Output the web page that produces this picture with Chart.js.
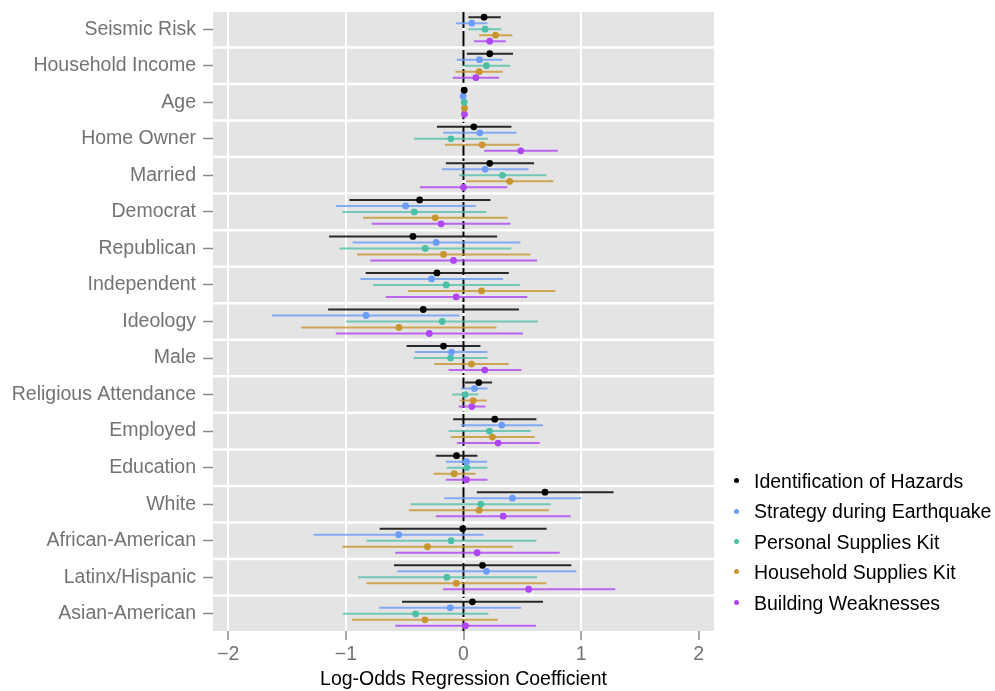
<!DOCTYPE html>
<html><head><meta charset="utf-8">
<script src="https://cdn.jsdelivr.net/npm/chart.js@4"></script>
<style>
body{margin:0;background:#fff;}
#wrap{position:relative;width:995px;height:691px;}
#legend{position:absolute;left:728px;top:466px;font-family:'Liberation Sans',Arial,sans-serif;font-size:19.5px;color:#000;}
.item{height:30.4px;line-height:30.4px;white-space:nowrap;position:relative;padding-left:26px;}
.dot{position:absolute;left:5.5px;top:12.2px;width:5px;height:5px;border-radius:50%;}
</style></head>
<body>
<div id="wrap"><canvas id="c"></canvas><div id="legend"></div></div>
<script>
const categories = ['Seismic Risk','Household Income','Age','Home Owner','Married','Democrat','Republican','Independent','Ideology','Male','Religious Attendance','Employed','Education','White','African-American','Latinx/Hispanic','Asian-American'];
const seriesNames = ['Identification of Hazards','Strategy during Earthquake','Personal Supplies Kit','Household Supplies Kit','Building Weaknesses'];
const xTicks = [-2,-1,0,1,2];

const hazardsEst = [0.175,0.223,0.006,0.088,0.223,-0.373,-0.430,-0.226,-0.342,-0.170,0.130,0.266,-0.059,0.693,-0.006,0.161,0.076];
const hazardsLo  = [0.042,0.028,0.001,-0.226,-0.150,-0.970,-1.143,-0.832,-1.151,-0.484,0.011,-0.088,-0.235,0.113,-0.713,-0.591,-0.523];
const hazardsHi  = [0.317,0.421,0.011,0.407,0.600,0.229,0.286,0.385,0.472,0.144,0.243,0.620,0.119,1.276,0.707,0.917,0.676];

const strategyEst = [0.071,0.136,-0.003,0.139,0.184,-0.492,-0.232,-0.272,-0.829,-0.102,0.093,0.325,0.025,0.416,-0.552,0.195,-0.113];
const strategyLo  = [-0.065,-0.057,-0.008,-0.173,-0.184,-1.083,-0.942,-0.877,-1.627,-0.413,-0.020,-0.023,-0.150,-0.164,-1.276,-0.563,-0.716];
const strategyHi  = [0.204,0.331,0.002,0.450,0.554,0.105,0.484,0.337,-0.034,0.204,0.204,0.676,0.201,1.001,0.170,0.959,0.489];

const personalEst = [0.184,0.195,0.006,-0.107,0.331,-0.419,-0.325,-0.147,-0.181,-0.110,0.014,0.221,0.028,0.147,-0.105,-0.141,-0.407];
const personalLo  = [0.042,-0.003,0.001,-0.421,-0.037,-1.030,-1.055,-0.769,-0.999,-0.424,-0.096,-0.127,-0.144,-0.450,-0.826,-0.897,-1.027];
const personalHi  = [0.322,0.399,0.011,0.209,0.704,0.195,0.407,0.478,0.634,0.204,0.127,0.571,0.204,0.744,0.620,0.625,0.212];

const householdEst = [0.272,0.133,0.008,0.158,0.393,-0.240,-0.170,0.153,-0.549,0.068,0.082,0.246,-0.079,0.133,-0.306,-0.062,-0.328];
const householdLo  = [0.133,-0.068,0.003,-0.158,0.025,-0.854,-0.905,-0.472,-1.380,-0.249,-0.031,-0.110,-0.255,-0.464,-1.030,-0.826,-0.948];
const householdHi  = [0.416,0.334,0.013,0.478,0.764,0.376,0.569,0.781,0.280,0.385,0.198,0.605,0.102,0.727,0.419,0.704,0.291];

const buildingEst = [0.223,0.105,0.008,0.487,0.000,-0.190,-0.085,-0.062,-0.291,0.181,0.071,0.294,0.025,0.337,0.116,0.554,0.017];
const buildingLo  = [0.088,-0.090,0.003,0.175,-0.371,-0.781,-0.792,-0.662,-1.086,-0.127,-0.040,-0.057,-0.150,-0.235,-0.580,-0.175,-0.580];
const buildingHi  = [0.359,0.303,0.013,0.801,0.373,0.399,0.625,0.543,0.506,0.492,0.187,0.648,0.204,0.911,0.818,1.290,0.617];

const pointColors = ['#000000','#6A9CF8','#4CBFA6','#C8952F','#AF45F3'];
const lineColors  = ['rgba(20,20,20,0.9)','rgba(106,156,248,0.8)','rgba(76,191,166,0.75)','rgba(200,149,47,0.8)','rgba(175,69,243,0.8)'];

const series = [
  {est: hazardsEst, lo: hazardsLo, hi: hazardsHi},
  {est: strategyEst, lo: strategyLo, hi: strategyHi},
  {est: personalEst, lo: personalLo, hi: personalHi},
  {est: householdEst, lo: householdLo, hi: householdHi},
  {est: buildingEst, lo: buildingLo, hi: buildingHi}
];

const dodge = 0.164;
const datasets = [];
series.forEach((s, k) => {
  const off = (k - 2) * dodge;
  const segs = [];
  s.est.forEach((v, i) => {
    segs.push({x: s.lo[i], y: i + off}, {x: s.hi[i], y: i + off}, {x: null, y: null});
  });
  datasets.push({type: 'line', label: seriesNames[k] + ' CI', data: segs, borderColor: lineColors[k],
    borderWidth: 2, pointRadius: 0, spanGaps: false, tension: 0, fill: false, order: 1});
  datasets.push({type: 'scatter', label: seriesNames[k], data: s.est.map((v, i) => ({x: v, y: i + off})),
    backgroundColor: pointColors[k], borderWidth: 0, pointRadius: 3.4, order: 0});
});

const FONT = "'Liberation Sans', Arial, sans-serif";
Chart.defaults.font.family = FONT;

const panelPlugin = {
  id: 'panels',
  beforeDraw(chart) {
    const {ctx, chartArea: a} = chart;
    ctx.save();
    ctx.fillStyle = '#E4E4E4';
    ctx.fillRect(a.left, a.top, a.right - a.left, a.bottom - a.top);
    ctx.restore();
  },
  beforeDatasetsDraw(chart) {
    const {ctx, chartArea: a} = chart;
    const x = chart.scales.x.getPixelForValue(0);
    ctx.save();
    ctx.strokeStyle = '#000';
    ctx.lineWidth = 2;
    ctx.setLineDash([16, 3]);
    ctx.beginPath();
    ctx.moveTo(x, a.top);
    ctx.lineTo(x, a.bottom);
    ctx.stroke();
    ctx.restore();
  },
  afterDatasetsDraw(chart) {
    const {ctx, chartArea: a} = chart;
    const ys = chart.scales.y;
    ctx.save();
    ctx.strokeStyle = '#ffffff';
    ctx.lineWidth = 2.5;
    for (let k = 0; k < categories.length - 1; k++) {
      const y = ys.getPixelForValue(k + 0.5);
      ctx.beginPath();
      ctx.moveTo(a.left, y);
      ctx.lineTo(a.right, y);
      ctx.stroke();
    }
    ctx.restore();
  }
};

new Chart(document.getElementById('c'), {
  type: 'scatter',
  data: {datasets},
  plugins: [panelPlugin],
  options: {
    responsive: true,
    maintainAspectRatio: false,
    devicePixelRatio: 1,
    animation: false,
    events: [],
    layout: {padding: {left: 0, top: 12, right: 281, bottom: 0}},
    plugins: {legend: {display: false}, tooltip: {enabled: false}},
    scales: {
      x: {
        type: 'linear', min: -2.13, max: 2.13,
        afterBuildTicks: (scale) => { scale.ticks = xTicks.map(v => ({value: v})); },
        afterFit: (scale) => { scale.height = 60; scale.paddingLeft = 0; scale.paddingRight = 0; },
        border: {display: false},
        grid: {
          color: (ctx) => (ctx.tick && ctx.tick.value === 2) ? 'rgba(0,0,0,0)' : '#ffffff',
          lineWidth: 2, tickColor: '#8a8a8a', tickWidth: 1.5, tickLength: 9
        },
        ticks: {
          color: '#737373', font: {size: 19.5}, padding: 3, maxRotation: 0, autoSkip: false,
          callback: (v) => v < 0 ? '\u2212' + Math.abs(v) : String(v)
        },
        title: {display: true, text: 'Log-Odds Regression Coefficient', color: '#000',
          font: {size: 19.5, lineHeight: 1.2}, padding: {top: 0, bottom: 0}}
      },
      y: {
        type: 'linear', min: -0.47, max: 16.47, reverse: true,
        afterBuildTicks: (scale) => { scale.ticks = categories.map((c, i) => ({value: i})); },
        afterFit: (scale) => { scale.width = 213; scale.paddingTop = 0; scale.paddingBottom = 0; },
        border: {display: false},
        grid: {drawOnChartArea: false, tickColor: '#8a8a8a', tickWidth: 1.5, tickLength: 10},
        ticks: {
          color: '#737373', font: {size: 19.5}, padding: 7, autoSkip: false,
          callback: (v) => categories[Math.round(v)]
        }
      }
    }
  }
});

const legend = document.getElementById('legend');
seriesNames.forEach((n, k) => {
  const it = document.createElement('div');
  it.className = 'item';
  const d = document.createElement('span');
  d.className = 'dot';
  d.style.background = pointColors[k];
  it.appendChild(d);
  it.appendChild(document.createTextNode(n));
  legend.appendChild(it);
});
</script>
</body></html>
